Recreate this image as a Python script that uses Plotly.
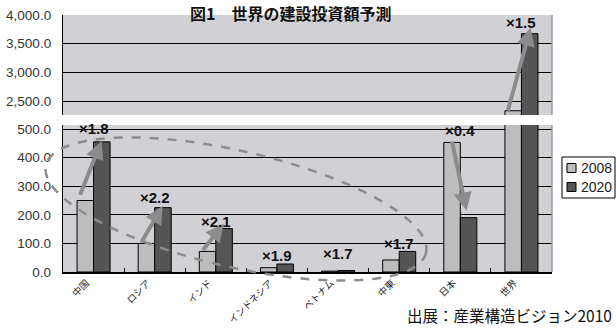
import numpy as np
import plotly.graph_objects as go
from plotly.subplots import make_subplots

categories = ["中国", "ロシア", "インド", "インドネシア", "ベトナム", "中東", "日本", "世界"]
v2008 = [250, 100, 72, 15, 3, 42, 453, 2330]
v2020 = [455, 225, 152, 28, 5, 72, 190, 3674]
series_names = ["2008", "2020"]
ratio_labels = ["×1.8", "×2.2", "×2.1", "×1.9", "×1.7", "×1.7", "×0.4", "×1.5"]
upper_ticks = [2500, 3000, 3500, 4000]
lower_ticks = [0, 100, 200, 300, 400, 500]

# layout constants (pixels)
W, H = 616, 329
L, R, T, B = 63, 64, 15, 57
PW, PH = W - L - R, H - T - B

def px_x(p):
    return (p - L) / PW

def px_y(p):
    return (H - B - p) / PH

C08 = "#bdbdbd"
C20 = "#555555"
BG = "#d1d1d5"
ARROW = "#8c8c8c"
colors = [C08, C20]

fig = make_subplots(rows=2, cols=1, shared_xaxes=True)

for r in (1, 2):
    for name, vals, col in zip(series_names, [v2008, v2020], colors):
        fig.add_trace(go.Bar(x=categories, y=vals, name=name,
                             marker=dict(color=col, line=dict(color="black", width=1)),
                             showlegend=False), row=r, col=1)

tickfont = dict(family="Liberation Sans, Arial", size=13.5, color="#333")
fig.update_layout(
    width=W, height=H, margin=dict(l=L, r=R, t=T, b=B, autoexpand=False),
    paper_bgcolor="white", plot_bgcolor=BG,
    barmode="group", bargap=0.46, bargroupgap=0,
    font=dict(family="Noto Sans CJK JP, Liberation Sans", color="#222"),
)
fig.update_yaxes(row=1, col=1, domain=[px_y(115), 1], range=[2256, 4000], tickvals=upper_ticks,
                 tickformat=",.1f", showgrid=True, gridcolor="black", gridwidth=1.3,
                 showline=True, linecolor="black", linewidth=1.3, ticks="", tickfont=tickfont,
                 ticklabelstandoff=8, zeroline=False)
fig.update_yaxes(row=2, col=1, domain=[0, px_y(125)], range=[0, 514], tickvals=lower_ticks,
                 tickformat=",.1f", showgrid=True, gridcolor="black", gridwidth=1.3,
                 showline=True, linecolor="black", linewidth=1.3, ticks="", tickfont=tickfont,
                 ticklabelstandoff=8, zeroline=False)
fig.update_xaxes(row=1, col=1, showticklabels=False, ticks="", showline=False, showgrid=False)
fig.update_xaxes(row=2, col=1, showline=True, linecolor="black", linewidth=1.5, ticks="inside",
                 tickson="boundaries", ticklen=4, tickcolor="black", tickangle=-45, showgrid=False,
                 ticklabelshift=-7, ticklabelstandoff=0,
                 tickfont=dict(family="Noto Sans CJK JP", size=9.5, color="#222"))

# right borders of panels
for y0, y1 in ((px_y(115), 1), (0, px_y(125))):
    fig.add_shape(type="line", xref="paper", yref="paper", x0=1, x1=1, y0=y0, y1=y1,
                  line=dict(color="#9a9a9a", width=1.5))

# arrows: (category index, tail dx, head dx, tail offset, head offset, axis row)
arrow_specs = [(0, -0.23, 0.13, 15, 3, 2), (1, -0.23, 0.13, 0, 6, 2), (2, -0.23, 0.13, 0, 17, 2),
               (6, -0.14, 0.10, 8, 25, 2), (7, -0.23, 0.15, -25, 105, 1)]
for i, dx0, dx1, d0, d1, r in arrow_specs:
    xr = "x" if r == 1 else "x2"
    yr = "y" if r == 1 else "y2"
    fig.add_annotation(x=i + dx1, y=v2020[i] + d1, ax=i + dx0, ay=v2008[i] + d0,
                       xref=xr, yref=yr, axref=xr, ayref=yr, text="", showarrow=True,
                       arrowhead=2, arrowsize=0.9, arrowwidth=4, arrowcolor=ARROW, standoff=0)

# multiplier labels: (index, y position, row)
label_pos = [(0, 503, 2), (1, 259, 2), (2, 178, 2), (3, 59, 2), (4, 66, 2), (5, 101, 2), (6, 496, 2), (7, 3866, 1)]
for (i, yv, r), txt in zip(label_pos, ratio_labels):
    fig.add_annotation(x=i, y=yv, xref="x" if r == 1 else "x2", yref="y" if r == 1 else "y2",
                       text="<b>" + txt + "</b>", showarrow=False,
                       font=dict(family="Liberation Sans, Arial", size=15, color="#111"))

# dashed ellipse (pixel geometry)
cx, cy, a, b, ang = 236, 209, 195, 58, np.deg2rad(13)
t = np.linspace(0, 2 * np.pi, 120)
ex = cx + a * np.cos(t) * np.cos(ang) - b * np.sin(t) * np.sin(ang)
ey = cy + a * np.cos(t) * np.sin(ang) + b * np.sin(t) * np.cos(ang)
path = "M " + " L ".join(f"{px_x(x):.4f},{px_y(y):.4f}" for x, y in zip(ex, ey)) + " Z"
fig.add_shape(type="path", path=path, xref="paper", yref="paper",
              line=dict(color=ARROW, width=2.5, dash="dash"))

# legend (drawn beside the plot)
lx0, ly0, lx1, ly1 = 562, 157, 615, 198
fig.add_shape(type="rect", xref="paper", yref="paper", x0=px_x(lx0), x1=px_x(lx1), y0=px_y(ly1), y1=px_y(ly0),
              line=dict(color="black", width=1), fillcolor="white")
for k, (name, col) in enumerate(zip(series_names, colors)):
    yc = ly0 + 11 + k * 19
    fig.add_shape(type="rect", xref="paper", yref="paper", x0=px_x(lx0 + 5), x1=px_x(lx0 + 14),
                  y0=px_y(yc + 4.5), y1=px_y(yc - 4.5), line=dict(color="black", width=1), fillcolor=col)
    fig.add_annotation(x=px_x(lx0 + 17), y=px_y(yc), xref="paper", yref="paper", text=name,
                       showarrow=False, xanchor="left", yanchor="middle",
                       font=dict(family="Liberation Sans, Arial", size=14, color="#222"))

# title and source
fig.add_annotation(x=px_x(290), y=px_y(-1), xref="paper", yref="paper", text="<b>図1　世界の建設投資額予測</b>",
                   showarrow=False, xanchor="center", yanchor="top",
                   font=dict(family="Noto Sans CJK JP", size=16, color="#111"))
fig.add_annotation(x=px_x(614), y=px_y(315), xref="paper", yref="paper", text="出展：産業構造ビジョン2010",
                   showarrow=False, xanchor="right", yanchor="middle",
                   font=dict(family="Noto Sans CJK JP", size=15.5, color="#111"))

fig.write_html("out.html")
